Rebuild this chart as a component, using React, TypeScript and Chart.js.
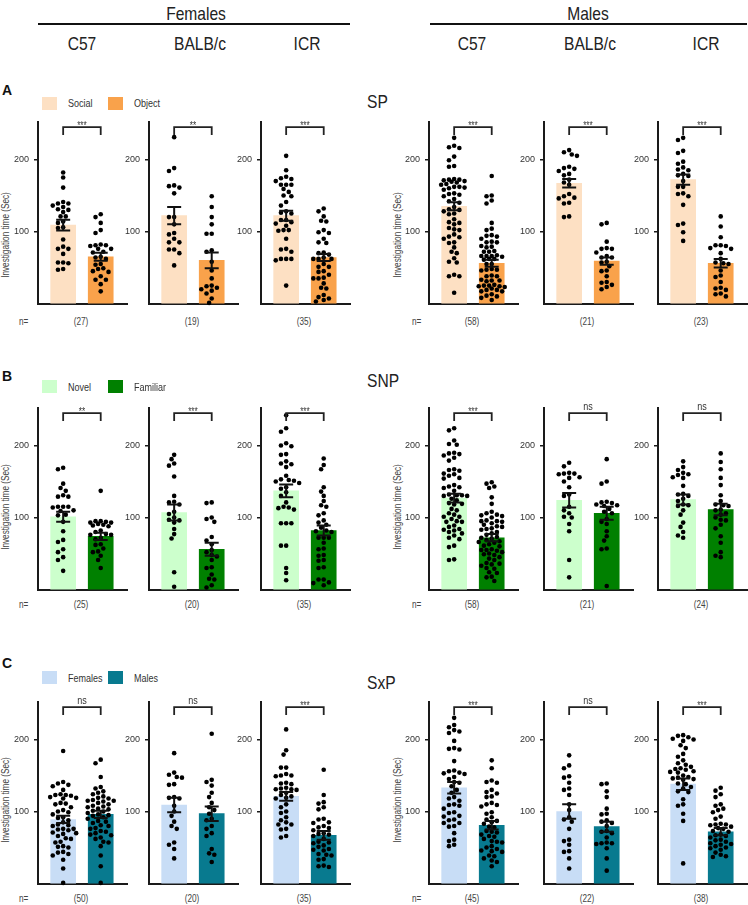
import React, { useEffect, useRef } from "react";
import { Chart, registerables } from "chart.js";

Chart.register(...registerables);

const SANS = '"Liberation Sans", Arial, sans-serif';
const NARROW = SANS;
const SQUEEZE = 0.82;
const AXIS_COLOR = "#1a1a1a";

// ---------- labels ----------
const sexes = ["Females", "Males"];
const strains = ["C57", "BALB/c", "ICR", "C57", "BALB/c", "ICR"];
const rowLetters = ["A", "B", "C"];
const tests = ["SP", "SNP", "SxP"];
const yTicks = [100, 200];
const yTitle = "Investigation time (Sec)";

const spGroups = ["Social", "Object"];
const snpGroups = ["Novel", "Familiar"];
const sxpGroups = ["Females", "Males"];
const spColors = ["#FDE0C3", "#F9A24B"];
const snpColors = ["#CCFFCC", "#008000"];
const sxpColors = ["#C8DDF6", "#087A8F"];

const spN = [27, 19, 35, 58, 21, 23];
const snpN = [25, 20, 35, 58, 21, 24];
const sxpN = [50, 20, 35, 45, 22, 38];

const spSig = ["***", "**", "***", "***", "***", "***"];
const snpSig = ["**", "***", "***", "***", "ns", "ns"];
const sxpSig = ["ns", "ns", "***", "***", "ns", "***"];

// bar heights (means) and SEM per panel [group1, group2]
const spMeans = [[109, 65], [122, 60], [122, 64], [135, 56], [167, 59], [172, 56]];
const spSems = [[7.5, 5.5], [12, 11], [7, 5], [5.5, 5], [6, 5], [7, 6]];
const snpMeans = [[101, 74], [107, 56], [137, 82], [127, 72], [124, 106], [125, 111]];
const snpSems = [[7, 5], [11, 9], [9, 7], [6, 5], [10, 9], [7, 8]];
const sxpMeans = [[89, 96], [109, 97], [121, 67], [133, 81], [100, 79], [138, 72]];
const sxpSems = [[5, 5], [10, 10], [6, 6], [8, 6], [10, 7], [8, 5]];

// ---------- individual points ----------
// SP
const sp_F_C57_a = [182, 175, 161, 141, 139, 139, 136, 134, 131, 130, 127, 121, 121, 114, 112, 106, 105, 89, 79, 76, 76, 69, 57, 57, 56, 48, 47];
const sp_F_C57_b = [124, 120, 112, 102, 98, 82, 81, 81, 80, 76, 76, 72, 71, 65, 64, 62, 55, 54, 49, 48, 45, 44, 38, 33, 33, 27, 17];
const sp_F_BALB_a = [231, 188, 184, 164, 163, 161, 153, 120, 120, 110, 98, 96, 90, 85, 85, 75, 75, 70, 53];
const sp_F_BALB_b = [149, 134, 120, 110, 97, 97, 74, 72, 58, 46, 35, 25, 24, 22, 20, 18, 14, 7, 1];
const sp_F_ICR_a = [205, 185, 176, 174, 173, 170, 165, 165, 165, 159, 155, 150, 149, 141, 136, 128, 126, 125, 116, 116, 113, 111, 108, 102, 102, 101, 90, 76, 75, 72, 62, 62, 62, 60, 25];
const sp_F_ICR_b = [132, 128, 121, 115, 114, 102, 99, 98, 90, 85, 84, 71, 70, 68, 62, 62, 64, 62, 55, 51, 51, 45, 44, 40, 35, 35, 36, 28, 21, 22, 12, 9, 7, 5, 3];
const sp_M_C57_a = [230, 219, 217, 216, 204, 199, 191, 190, 173, 172, 172, 171, 170, 169, 168, 166, 165, 162, 162, 161, 160, 158, 153, 152, 151, 149, 145, 142, 140, 134, 131, 130, 128, 125, 124, 117, 113, 112, 110, 105, 103, 102, 96, 93, 92, 90, 85, 84, 78, 72, 70, 63, 58, 57, 40, 38, 38, 15];
const sp_M_C57_b = [177, 150, 149, 143, 139, 112, 104, 102, 95, 94, 93, 90, 86, 85, 85, 80, 79, 78, 73, 72, 72, 67, 66, 66, 66, 65, 62, 62, 61, 55, 55, 48, 47, 47, 46, 39, 38, 38, 33, 32, 32, 31, 26, 25, 25, 24, 24, 23, 21, 19, 19, 17, 17, 13, 11, 10, 8, 5];
const sp_M_BALB_a = [213, 210, 207, 205, 190, 188, 187, 184, 180, 178, 172, 168, 165, 152, 149, 147, 146, 140, 139, 121, 120];
const sp_M_BALB_b = [112, 110, 86, 77, 76, 76, 71, 66, 64, 64, 58, 57, 52, 46, 45, 38, 30, 29, 26, 23, 20];
const sp_M_ICR_a = [230, 227, 212, 209, 197, 194, 189, 186, 185, 180, 178, 177, 170, 162, 162, 153, 152, 149, 137, 111, 109, 99, 87];
const sp_M_ICR_b = [121, 107, 92, 81, 81, 80, 77, 76, 70, 62, 57, 56, 55, 46, 39, 37, 30, 22, 21, 19, 14, 13, 10];

// SNP
const snp_F_C57_a = [169, 167, 147, 141, 137, 131, 129, 129, 115, 115, 115, 114, 110, 109, 104, 103, 94, 81, 69, 66, 56, 52, 45, 41, 26];
const snp_F_C57_b = [137, 95, 95, 94, 93, 93, 91, 90, 89, 88, 82, 80, 77, 76, 76, 72, 70, 63, 62, 57, 53, 52, 47, 41, 30];
const snp_F_BALB_a = [187, 181, 175, 172, 157, 130, 122, 121, 118, 108, 105, 100, 97, 96, 93, 84, 77, 71, 24, 4];
const snp_F_BALB_b = [121, 120, 100, 98, 94, 73, 68, 63, 55, 52, 48, 46, 41, 31, 30, 21, 15, 14, 6, 3];
const snp_F_ICR_a = [242, 224, 219, 203, 200, 199, 188, 187, 178, 175, 174, 170, 158, 153, 152, 151, 150, 148, 142, 140, 135, 130, 121, 115, 114, 113, 111, 92, 92, 92, 61, 61, 30, 23, 13];
const snp_F_ICR_b = [182, 173, 167, 142, 136, 130, 123, 117, 115, 106, 103, 96, 93, 90, 86, 82, 81, 80, 72, 72, 72, 65, 57, 56, 48, 47, 41, 40, 31, 30, 14, 14, 10, 9, 6];
const snp_M_C57_a = [224, 221, 207, 202, 201, 190, 189, 188, 186, 183, 179, 167, 166, 165, 161, 160, 158, 155, 154, 145, 143, 142, 141, 137, 132, 131, 131, 130, 130, 126, 124, 120, 119, 118, 112, 110, 106, 104, 101, 101, 98, 95, 94, 94, 89, 87, 84, 83, 82, 80, 78, 75, 72, 70, 61, 59, 42, 41];
const snp_M_C57_b = [149, 147, 143, 141, 128, 119, 108, 106, 104, 103, 102, 100, 96, 95, 95, 94, 92, 90, 88, 87, 85, 84, 83, 80, 78, 76, 73, 72, 71, 69, 67, 66, 65, 63, 61, 60, 56, 55, 55, 54, 52, 50, 49, 48, 45, 43, 41, 37, 36, 35, 33, 30, 29, 24, 23, 18, 17, 12];
const snp_M_BALB_a = [176, 171, 162, 161, 161, 160, 156, 155, 150, 142, 132, 130, 115, 110, 106, 101, 100, 91, 81, 41, 17];
const snp_M_BALB_b = [181, 150, 147, 122, 121, 120, 118, 117, 116, 112, 108, 106, 98, 94, 91, 81, 74, 68, 57, 56, 5];
const snp_M_ICR_a = [178, 170, 166, 162, 160, 159, 156, 155, 144, 133, 132, 130, 126, 123, 118, 117, 116, 110, 104, 93, 87, 80, 75, 72];
const snp_M_ICR_b = [189, 177, 167, 155, 145, 131, 123, 118, 117, 116, 111, 110, 106, 104, 100, 97, 96, 90, 85, 74, 65, 52, 47, 45];

// SxP
const sxp_F_C57_a = [184, 141, 139, 137, 135, 130, 124, 123, 123, 122, 120, 119, 118, 112, 111, 110, 106, 102, 100, 99, 96, 92, 91, 88, 85, 82, 81, 80, 76, 76, 75, 74, 71, 70, 69, 66, 63, 62, 58, 57, 52, 51, 50, 44, 43, 41, 39, 33, 21, 1];
const sxp_F_C57_b = [172, 167, 148, 134, 132, 128, 126, 124, 121, 119, 118, 116, 115, 115, 114, 112, 110, 108, 107, 106, 104, 103, 101, 100, 98, 96, 95, 94, 92, 90, 87, 86, 84, 81, 80, 77, 76, 73, 72, 70, 68, 67, 64, 62, 58, 57, 52, 39, 24, 1];
const sxp_F_BALB_a = [181, 154, 151, 148, 147, 138, 137, 120, 119, 118, 108, 100, 94, 86, 80, 76, 57, 54, 48, 35];
const sxp_F_BALB_b = [208, 144, 141, 136, 126, 120, 112, 106, 102, 97, 90, 88, 80, 76, 70, 66, 48, 42, 40, 30];
const sxp_F_ICR_a = [214, 185, 179, 161, 161, 152, 150, 150, 149, 140, 139, 138, 133, 132, 131, 131, 130, 126, 123, 121, 119, 118, 110, 106, 100, 98, 92, 88, 85, 82, 82, 76, 75, 66, 64];
const sxp_F_ICR_b = [158, 123, 113, 111, 106, 103, 90, 89, 85, 84, 80, 78, 77, 74, 70, 69, 68, 66, 62, 58, 57, 56, 53, 51, 48, 47, 46, 41, 40, 39, 34, 33, 25, 24, 23];
const sxp_M_C57_a = [230, 220, 217, 213, 211, 209, 198, 188, 187, 186, 170, 157, 156, 154, 153, 152, 148, 145, 141, 140, 135, 130, 126, 120, 118, 115, 110, 109, 108, 104, 99, 98, 94, 93, 89, 88, 84, 84, 80, 79, 70, 61, 59, 54, 52];
const sxp_M_C57_b = [171, 160, 143, 141, 140, 130, 127, 125, 121, 120, 112, 110, 109, 107, 99, 97, 92, 89, 87, 85, 83, 79, 78, 73, 72, 71, 68, 66, 65, 62, 59, 58, 57, 52, 50, 48, 46, 45, 44, 39, 38, 35, 32, 30, 24];
const sxp_M_BALB_a = [178, 164, 160, 149, 147, 140, 132, 130, 123, 110, 102, 92, 89, 86, 76, 61, 59, 54, 45, 44, 35, 21];
const sxp_M_BALB_b = [139, 138, 128, 120, 104, 97, 96, 88, 86, 84, 80, 73, 72, 70, 64, 57, 56, 56, 55, 49, 35, 18];
const sxp_M_ICR_a = [206, 205, 203, 201, 200, 198, 192, 188, 180, 176, 171, 167, 165, 162, 160, 159, 158, 156, 155, 154, 150, 148, 147, 146, 145, 144, 139, 138, 134, 132, 128, 127, 117, 110, 108, 97, 87, 28];
const sxp_M_ICR_b = [133, 129, 124, 120, 110, 108, 104, 102, 99, 93, 90, 83, 82, 82, 81, 79, 77, 76, 73, 72, 68, 67, 66, 64, 61, 60, 58, 56, 55, 54, 52, 50, 49, 47, 43, 40, 38, 37];

const ROWS = [
  {
    groups: spGroups, colors: spColors, n: spN, sig: spSig, means: spMeans, sems: spSems,
    pts: [[sp_F_C57_a, sp_F_C57_b], [sp_F_BALB_a, sp_F_BALB_b], [sp_F_ICR_a, sp_F_ICR_b], [sp_M_C57_a, sp_M_C57_b], [sp_M_BALB_a, sp_M_BALB_b], [sp_M_ICR_a, sp_M_ICR_b]],
  },
  {
    groups: snpGroups, colors: snpColors, n: snpN, sig: snpSig, means: snpMeans, sems: snpSems,
    pts: [[snp_F_C57_a, snp_F_C57_b], [snp_F_BALB_a, snp_F_BALB_b], [snp_F_ICR_a, snp_F_ICR_b], [snp_M_C57_a, snp_M_C57_b], [snp_M_BALB_a, snp_M_BALB_b], [snp_M_ICR_a, snp_M_ICR_b]],
  },
  {
    groups: sxpGroups, colors: sxpColors, n: sxpN, sig: sxpSig, means: sxpMeans, sems: sxpSems,
    pts: [[sxp_F_C57_a, sxp_F_C57_b], [sxp_F_BALB_a, sxp_F_BALB_b], [sxp_F_ICR_a, sxp_F_ICR_b], [sxp_M_C57_a, sxp_M_C57_b], [sxp_M_BALB_a, sxp_M_BALB_b], [sxp_M_ICR_a, sxp_M_ICR_b]],
  },
];

// ---------- geometry ----------
const AXIS_X = [38, 149, 261, 429, 544, 658];
const ZERO_Y = [310, 595.5, 889.5];
const PLOT_W = 89;
const PLOT_H = 188;
const Y_MAX = 252;
const X_MIN = 0.33;
const X_MAX = 2.7;
const PAD_L = 34;
const PAD_T = 14;
const PAD_R = 6;
const PAD_B = 4;
const BRACKET_VAL = 245;

function swarm(vals: number[], center: number) {
  const ky = PLOT_H / Y_MAX;
  const kx = PLOT_W / (X_MAX - X_MIN);
  const D = 4.7;
  const HALF = 2.6;
  const LIM = 13;
  const cands: number[] = [0];
  for (let k = 1; k * HALF <= LIM; k++) cands.push(-k * HALF, k * HALF);
  const placed: [number, number][] = [];
  const out: { x: number; y: number }[] = [];
  const sorted = [...vals].sort((a, b) => b - a);
  for (const v of sorted) {
    const py = v * ky;
    let best = 0;
    let bestScore = -1;
    for (const c of cands) {
      let minD = Infinity;
      for (const [qx, qy] of placed) {
        if (Math.abs(qy - py) >= D) continue;
        const d = Math.hypot(qx - c, qy - py);
        if (d < minD) minD = d;
      }
      if (minD >= D) { best = c; bestScore = Infinity; break; }
      if (minD > bestScore) { bestScore = minD; best = c; }
    }
    placed.push([best, py]);
    out.push({ x: center + best / kx, y: v });
  }
  return out;
}

function overlay(means: number[], sems: number[], sig: string) {
  return {
    id: "overlay",
    afterDatasetsDraw(chart: any) {
      const { ctx } = chart;
      const xs = chart.scales.x;
      const ys = chart.scales.y;
      ctx.save();
      ctx.strokeStyle = "#111";
      ctx.lineWidth = 2;
      [0, 1].forEach((i) => {
        const cx = xs.getPixelForValue(i + 1);
        const t = ys.getPixelForValue(means[i] + sems[i]);
        const b = ys.getPixelForValue(means[i] - sems[i]);
        ctx.beginPath();
        ctx.moveTo(cx, t);
        ctx.lineTo(cx, b);
        ctx.moveTo(cx - 7, t);
        ctx.lineTo(cx + 7, t);
        ctx.moveTo(cx - 7, b);
        ctx.lineTo(cx + 7, b);
        ctx.stroke();
      });
      const x1 = xs.getPixelForValue(1);
      const x2 = xs.getPixelForValue(2);
      const by = ys.getPixelForValue(BRACKET_VAL);
      ctx.strokeStyle = "#222";
      ctx.lineWidth = 1.8;
      ctx.beginPath();
      ctx.moveTo(x1, by + 8);
      ctx.lineTo(x1, by);
      ctx.lineTo(x2, by);
      ctx.lineTo(x2, by + 8);
      ctx.stroke();
      ctx.fillStyle = "#333";
      ctx.textAlign = "center";
      ctx.textBaseline = "alphabetic";
      const mx = (x1 + x2) / 2;
      ctx.translate(mx, 0);
      ctx.scale(SQUEEZE, 1);
      if (sig === "ns") {
        ctx.font = `11px ${NARROW}`;
        ctx.fillText(sig, 0, by - 3);
      } else {
        ctx.font = `10px ${NARROW}`;
        ctx.fillText(sig, 0, by + 1.5);
      }
      ctx.restore();
    },
  };
}

function Panel({ row, col }: { row: number; col: number }) {
  const ref = useRef<HTMLCanvasElement>(null);
  const R = ROWS[row];
  const width = PAD_L + PLOT_W + PAD_R;
  const height = PAD_T + PLOT_H + PAD_B;
  useEffect(() => {
    const canvas = ref.current!;
    const pts = R.pts[col];
    const means = R.means[col];
    const sems = R.sems[col];
    const chart = new Chart(canvas, {
      type: "bar",
      data: {
        datasets: [
          {
            type: "scatter",
            data: [...swarm(pts[0], 1), ...swarm(pts[1], 2)],
            pointRadius: 2.3,
            pointBackgroundColor: "#000",
            pointBorderWidth: 0,
            order: 0,
            clip: false,
          } as any,
          {
            type: "bar",
            data: [{ x: 1, y: means[0] }, { x: 2, y: means[1] }],
            backgroundColor: R.colors,
            barThickness: 25,
            order: 1,
          } as any,
        ],
      },
      options: {
        responsive: false,
        animation: false,
        devicePixelRatio: 1,
        events: [],
        layout: { padding: { left: 0, top: PAD_T, right: PAD_R, bottom: PAD_B } },
        plugins: { legend: { display: false }, tooltip: { enabled: false } },
        scales: {
          x: {
            type: "linear",
            min: X_MIN,
            max: X_MAX,
            offset: false,
            ticks: { display: false },
            grid: { display: false },
            border: { display: true, color: AXIS_COLOR, width: 2 },
            afterFit: (s: any) => { s.height = 0; },
          },
          y: {
            type: "linear",
            min: 0,
            max: Y_MAX,
            afterBuildTicks: (s: any) => { s.ticks = yTicks.map((v) => ({ value: v })); },
            afterFit: (s: any) => { s.width = PAD_L; },
            ticks: { font: { family: NARROW, size: 9 }, color: "#333", padding: 5 },
            grid: { drawOnChartArea: false, drawTicks: true, tickLength: 4, color: AXIS_COLOR, lineWidth: 1.5 },
            border: { display: true, color: AXIS_COLOR, width: 2 },
          },
        },
      } as any,
      plugins: [overlay(means, sems, R.sig[col])],
    });
    return () => chart.destroy();
  }, [row, col]);
  return (
    <canvas
      ref={ref}
      width={width}
      height={height}
      style={{ position: "absolute", left: AXIS_X[col] - PAD_L, top: ZERO_Y[row] - PLOT_H - PAD_T, width, height }}
    />
  );
}

function Txt(props: { x: number; y: number; text: string; size: number; align?: "left" | "center"; bold?: boolean; family?: string; color?: string; rotate?: boolean; squeeze?: number }) {
  const { x, y, text, size, align = "left", bold, family = NARROW, color = "#222", rotate, squeeze = SQUEEZE } = props;
  const centered = rotate || align === "center";
  return (
    <div
      style={{
        position: "absolute",
        left: x,
        top: y,
        transformOrigin: centered ? "50% 50%" : "0 50%",
        transform: `translate(${centered ? "-50%" : "0"}, -50%)${rotate ? " rotate(-90deg)" : ""} scaleX(${squeeze})`,
        fontFamily: family,
        fontSize: size,
        fontWeight: bold ? 700 : 400,
        color,
        lineHeight: 1,
        whiteSpace: "nowrap",
      }}
    >
      {text}
    </div>
  );
}

const COL_LABEL_X = [82, 200, 307, 472, 590, 706];
const LEGEND_Y = [103, 386.5, 677.5];
const LETTER_Y = [90, 376, 663];
const TITLE_Y = [101, 380, 682];
const N_Y = [322, 605, 899];
const YTITLE_Y = [235, 507, 800];

export default function App() {
  return (
    <div style={{ position: "absolute", left: 0, top: 0, width: 748, height: 905, background: "#fff", overflow: "hidden" }}>
      <Txt x={196} y={13} text={sexes[0]} size={19} align="center" />
      <div style={{ position: "absolute", left: 38, top: 23, width: 312, height: 1.5, background: "#111" }} />
      <Txt x={588} y={13} text={sexes[1]} size={19} align="center" />
      <div style={{ position: "absolute", left: 430, top: 23, width: 317, height: 1.5, background: "#111" }} />
      {strains.map((s, i) => (
        <Txt key={"s" + i} x={COL_LABEL_X[i]} y={43} text={s} size={19} align="center" />
      ))}
      {ROWS.map((R, r) => (
        <React.Fragment key={"r" + r}>
          <Txt x={2} y={LETTER_Y[r]} text={rowLetters[r]} size={14} bold family={SANS} color="#111" squeeze={1} />
          <div style={{ position: "absolute", left: 42, top: LEGEND_Y[r] - 6.5, width: 15, height: 13, background: R.colors[0] }} />
          <Txt x={68} y={LEGEND_Y[r]} text={R.groups[0]} size={11} color="#333" />
          <div style={{ position: "absolute", left: 108, top: LEGEND_Y[r] - 6.5, width: 15, height: 13, background: R.colors[1] }} />
          <Txt x={134} y={LEGEND_Y[r]} text={R.groups[1]} size={11} color="#333" />
          <Txt x={367} y={TITLE_Y[r]} text={tests[r]} size={19} />
          <Txt x={19} y={N_Y[r]} text="n=" size={10} color="#444" />
          <Txt x={412} y={N_Y[r]} text="n=" size={10} color="#444" />
          <Txt x={6} y={YTITLE_Y[r]} text={yTitle} size={10} color="#444" rotate />
          <Txt x={398} y={YTITLE_Y[r]} text={yTitle} size={10} color="#444" rotate />
          {R.n.map((n, c) => (
            <Txt key={"n" + c} x={AXIS_X[c] + 43} y={N_Y[r]} text={`(${n})`} size={10} align="center" color="#444" />
          ))}
          {[0, 1, 2, 3, 4, 5].map((c) => (
            <Panel key={"p" + c} row={r} col={c} />
          ))}
        </React.Fragment>
      ))}
    </div>
  );
}
